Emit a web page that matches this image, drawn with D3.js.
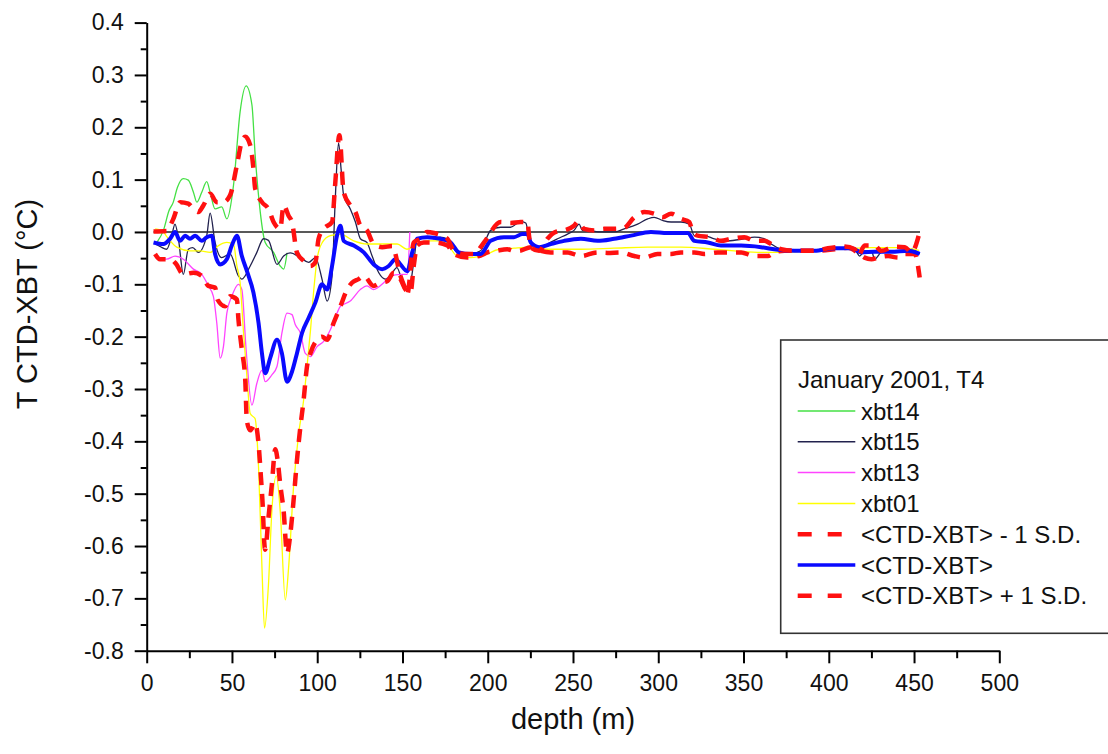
<!DOCTYPE html>
<html>
<head>
<meta charset="utf-8">
<script src="https://cdn.jsdelivr.net/npm/d3@7"></script>
<style>
    body { margin: 0; background: #fff; }
    svg { font-family: "Liberation Sans", Arial, sans-serif; }
</style>
</head>
<body>
<svg id="chart" width="1108" height="754"></svg>
<script>
// depth (m), T CTD-XBT (°C)
const xbt14 = [[6,-0.02],[10,0.005],[13,0.04],[15.6,0.057],[18,0.085],[21.5,0.102],[24.4,0.099],[27.4,0.076],[29.4,0.057],[32.3,0.076],[35.2,0.096],[37.2,0.076],[40.1,0.044],[44,0.048],[47,0.025],[50.9,0.089],[54.8,0.23],[58.3,0.279],[61.7,0.243],[63.6,0.147],[66.6,0.038],[69.5,-0.02],[74.4,-0.039],[78.3,-0.065],[80.3,-0.071],[82.3,-0.04]];

const xbt15 = [[5,-0.023],[8,-0.028],[11.7,-0.033],[14.5,-0.01],[16.6,0.015],[18.6,-0.013],[21.5,-0.081],[24.4,-0.033],[27,-0.03],[30.3,-0.039],[35.2,-0.007],[37.2,0.036],[40.1,-0.02],[43.9,-0.049],[48.9,-0.042],[53.8,-0.084],[55.8,-0.09],[60.7,-0.065],[64.6,-0.039],[68.5,-0.013],[71.4,-0.016],[76.4,-0.062],[80.3,-0.046],[84.2,-0.04],[90.1,-0.049],[95,-0.058],[98.9,-0.049],[102.8,-0.09],[105.8,-0.132],[108.7,-0.084],[110.6,0.064],[112.5,0.17],[114,0.12],[115.5,0.07],[119.4,0.044],[122.4,0.019],[125.3,-0.013],[129.1,-0.02],[132.2,-0.046],[136.1,-0.078],[140,-0.09],[143,-0.083],[146.7,-0.068],[150.8,-0.103],[153.7,-0.11],[156.6,-0.058],[158.6,-0.013],[164,-0.01],[168.4,-0.013],[172,-0.01],[176.3,-0.013],[182.1,-0.039],[186,-0.042],[190,-0.042],[195.8,-0.036],[201.7,0.003],[207.6,0.009],[213.4,0.009],[219.3,0.02],[222.3,0.017],[224.8,-0.02],[230.1,-0.033],[235,-0.023],[240.9,-0.013],[246.8,-0.004],[250.6,0.003],[253.6,0.015],[255.5,0.003],[260.4,0.002],[266.3,0],[274.1,0],[280,0.006],[287.9,0.015],[293.8,0.025],[297.6,0.028],[302.6,0.022],[307.5,0.019],[313.3,0.019],[318.2,0.015],[321.2,-0.007],[327,-0.007],[332.9,-0.013],[340.8,-0.017],[350.5,-0.013],[356.4,-0.01],[362.3,-0.013],[366.2,-0.023],[372.1,-0.033],[378,-0.036],[389.7,-0.036],[395.6,-0.033],[401.5,-0.03],[409.3,-0.03],[415.2,-0.033],[418.1,-0.046],[421,-0.036],[425,-0.036],[426.9,-0.052],[430.8,-0.039],[438.7,-0.036],[442.6,-0.039],[448.5,-0.033],[453.3,-0.042]];

const xbt13 = [[5,-0.049],[11.7,-0.052],[16.6,-0.046],[21.5,-0.052],[27.4,-0.071],[32.3,-0.081],[36.2,-0.103],[39.1,-0.123],[41.1,-0.174],[43.1,-0.241],[45,-0.219],[47,-0.155],[49.9,-0.123],[53.8,-0.1],[55.8,-0.11],[58.3,-0.225],[61.7,-0.331],[64.6,-0.289],[67.6,-0.264],[69.5,-0.286],[73.4,-0.273],[76.4,-0.257],[79.3,-0.193],[82.3,-0.155],[85.2,-0.158],[87.1,-0.177],[90.1,-0.193],[93,-0.232],[96,-0.238],[99.9,-0.219],[103.8,-0.209],[107.7,-0.187],[111.6,-0.155],[113.6,-0.142],[119.4,-0.132],[125.3,-0.11],[129.2,-0.103],[133.1,-0.11],[139,-0.097],[143,-0.084],[148.8,-0.081],[152.8,-0.081],[154.3,0]];

const xbt01 = [[5,0.006],[9,0.003],[12,-0.01],[17.6,-0.029],[25.4,-0.036],[31.3,-0.036],[37.2,-0.039],[42.1,-0.026],[47,-0.02],[50.9,-0.023],[52.9,-0.065],[54.8,-0.097],[56.8,-0.193],[58.8,-0.277],[60.7,-0.347],[63.6,-0.357],[65.6,-0.45],[67.6,-0.642],[69.1,-0.757],[71.4,-0.674],[73.4,-0.533],[76,-0.466],[78.3,-0.533],[81.3,-0.703],[83.2,-0.642],[86.1,-0.488],[89.1,-0.386],[92,-0.322],[94,-0.257],[96,-0.19],[98,-0.11],[100,-0.05],[103,-0.02],[107.7,-0.007],[113.6,-0.004],[121.4,-0.017],[129.3,-0.023],[139,-0.023],[146.9,-0.023],[152.6,-0.033],[157.6,-0.026],[164.5,-0.017],[174.3,-0.017],[182.1,-0.046],[190,-0.049],[199.8,-0.042],[205.6,-0.034],[215.4,-0.031],[225.2,-0.029],[235,-0.033],[254.6,-0.033],[274.1,-0.031],[293.8,-0.029],[313.3,-0.029],[332.9,-0.033],[344.6,-0.036],[360.3,-0.039],[372.1,-0.039],[390,-0.036],[410,-0.032],[425,-0.03],[440,-0.03],[453,-0.035]];

const meanMinusSD = [[4.9,-0.042],[7.8,-0.052],[13.7,-0.052],[17,-0.06],[21.5,-0.081],[27.4,-0.078],[32.3,-0.084],[36.2,-0.103],[40.1,-0.106],[41.5,-0.129],[46,-0.142],[48.9,-0.123],[52.9,-0.129],[53.8,-0.167],[55.8,-0.225],[57.8,-0.283],[58.7,-0.36],[60.7,-0.379],[63.6,-0.366],[65.6,-0.405],[67,-0.469],[68.1,-0.527],[68.9,-0.591],[69.5,-0.607],[71.4,-0.546],[73.4,-0.482],[75.4,-0.415],[76.7,-0.434],[78.3,-0.482],[80.3,-0.533],[82.3,-0.614],[84.2,-0.578],[86.1,-0.514],[88.1,-0.437],[90.1,-0.373],[92,-0.322],[94,-0.257],[96,-0.232],[99.9,-0.206],[102.8,-0.2],[105.8,-0.206],[109.6,-0.174],[113.6,-0.142],[117.5,-0.11],[120.4,-0.097],[124.3,-0.09],[127.3,-0.084],[133.1,-0.103],[137.1,-0.097],[141,-0.094],[144.9,-0.078],[148.8,-0.09],[151.8,-0.11],[154.7,-0.116],[156.6,-0.065],[158.6,-0.026],[162.5,-0.02],[168.4,-0.02],[176.3,-0.026],[180.1,-0.042],[188,-0.049],[195.8,-0.045],[199.8,-0.039],[205,-0.036],[211.5,-0.033],[215.4,-0.036],[218.3,-0.036],[225.2,-0.029],[231.1,-0.036],[237,-0.039],[246.8,-0.039],[254.6,-0.046],[264.4,-0.039],[270.2,-0.04],[278.1,-0.039],[285.9,-0.046],[291.8,-0.049],[299.6,-0.042],[307.5,-0.042],[313.3,-0.039],[321.2,-0.039],[327,-0.042],[334.9,-0.039],[340.8,-0.039],[348.6,-0.039],[356.4,-0.046],[364.3,-0.046],[368.2,-0.039],[374,-0.036],[384,-0.036],[393.6,-0.036],[403.4,-0.033],[411.3,-0.03],[417.2,-0.04],[421,-0.049],[425,-0.052],[428.9,-0.049],[434.8,-0.046],[440.7,-0.049],[444.6,-0.042],[450.4,-0.042],[453.3,-0.087]];

const meanDiff = [[4,-0.02],[9.8,-0.023],[13.7,-0.013],[16.6,0],[19.6,-0.017],[22.5,-0.007],[25.4,-0.013],[28.4,-0.007],[32.3,-0.017],[35.2,-0.01],[38.2,-0.007],[40.1,-0.042],[43.1,-0.062],[47,-0.052],[49.9,-0.026],[52.9,-0.007],[55.8,-0.046],[58.8,-0.075],[62.6,-0.116],[65.6,-0.174],[67.6,-0.232],[69.5,-0.27],[72.4,-0.241],[76.4,-0.206],[79.3,-0.232],[82.3,-0.286],[85.2,-0.267],[88.1,-0.232],[91.1,-0.193],[95,-0.164],[98.9,-0.135],[102.8,-0.1],[105.8,-0.11],[108.7,-0.065],[111.6,-0.007],[113.6,0.012],[115.5,-0.017],[121.4,-0.026],[127.3,-0.039],[133.1,-0.062],[138.1,-0.071],[141.9,-0.065],[145.9,-0.052],[148.8,-0.062],[152.8,-0.075],[155.7,-0.039],[158.6,-0.013],[164.5,-0.01],[172.3,-0.013],[178.2,-0.02],[183.1,-0.039],[190,-0.042],[195.8,-0.042],[201.7,-0.017],[209.5,-0.01],[215.4,-0.01],[220.3,-0.004],[223.3,-0.004],[225.2,-0.02],[230.1,-0.029],[237,-0.023],[244.8,-0.017],[254.6,-0.013],[264.4,-0.017],[274.1,-0.013],[284,-0.007],[295.7,0],[305.5,-0.002],[317.3,-0.002],[321.2,-0.017],[329,-0.02],[336.8,-0.026],[348.6,-0.026],[360.3,-0.029],[370.1,-0.034],[379.9,-0.036],[391.6,-0.036],[403.4,-0.031],[413.2,-0.031],[419.1,-0.039],[426.9,-0.038],[436.7,-0.038],[446.5,-0.036],[453.3,-0.042]];

const meanPlusSD = [[4,0.001],[11.7,0.002],[15.6,0.025],[19.6,0.057],[24.4,0.054],[27.4,0.044],[30.3,0.038],[33.3,0.051],[37.2,0.073],[41.1,0.057],[45,0.057],[48.9,0.07],[52.9,0.128],[55.8,0.173],[57.8,0.182],[60.7,0.166],[62.6,0.121],[63.6,0.083],[67.6,0.057],[71.4,0.044],[74.4,0.019],[78.3,0.006],[80.3,0.051],[83.2,0.031],[85.2,0.019],[88.1,-0.039],[92,-0.055],[96,-0.065],[98.9,-0.058],[100.8,-0.013],[103.8,0.006],[108.7,0.019],[110.5,0.09],[113,0.185],[115.5,0.076],[119.4,0.051],[122.4,0.038],[125.3,0.012],[129.2,0.003],[133.1,-0.023],[138.1,-0.029],[144,-0.027],[148.8,-0.084],[151.8,-0.11],[152.8,-0.119],[156.6,-0.02],[160.6,-0.013],[164.5,0],[168.4,-0.002],[176.3,-0.013],[180.1,-0.036],[186,-0.042],[191.9,-0.042],[197.8,-0.02],[207.6,0.019],[213.4,0.017],[219.3,0.019],[223.3,0.019],[224.2,-0.007],[225.2,-0.029],[230.1,-0.036],[235,-0.013],[239.9,0],[244.8,0.003],[250.6,0.012],[253,0.02],[256.5,0.006],[262.4,0.003],[268.3,0.006],[274.1,0.006],[280,0.008],[285.9,0.028],[291.8,0.038],[297.6,0.035],[302.6,0.028],[307.5,0.035],[313.3,0.025],[318.2,0.019],[320.2,0],[323.1,-0.007],[331,-0.01],[336.8,-0.017],[342.7,-0.013],[350.5,-0.01],[356.4,-0.017],[362.3,-0.017],[366.2,-0.023],[372.1,-0.033],[379.9,-0.036],[391.6,-0.036],[399.5,-0.031],[409.3,-0.028],[415.2,-0.033],[417.2,-0.046],[421,-0.026],[426.9,-0.026],[430.8,-0.036],[438.7,-0.028],[444.6,-0.029],[448.5,-0.039],[453.3,0.0]];

const zeroLine = [[4,0],[453.5,0]];

const legendTitle = "January 2001, T4";
const seriesNames = ["xbt14", "xbt15", "xbt13", "xbt01", "<CTD-XBT> - 1 S.D.", "<CTD-XBT>", "<CTD-XBT> + 1 S.D."];
const xTickValues = [0, 50, 100, 150, 200, 250, 300, 350, 400, 450, 500];
const yTickValues = [-0.8, -0.7, -0.6, -0.5, -0.4, -0.3, -0.2, -0.1, 0, 0.1, 0.2, 0.3, 0.4];

const series = [
    {name: seriesNames[0], data: xbt14, color: "#44e044", width: 1.3},
    {name: seriesNames[1], data: xbt15, color: "#22224e", width: 1.3},
    {name: seriesNames[2], data: xbt13, color: "#ff44ff", width: 1.3},
    {name: seriesNames[3], data: xbt01, color: "#ffff00", width: 1.3},
    {name: seriesNames[4], data: meanMinusSD, color: "#ff1010", width: 4.5, dash: "13,9"},
    {name: seriesNames[5], data: meanDiff, color: "#0a0aff", width: 4},
    {name: seriesNames[6], data: meanPlusSD, color: "#ff1010", width: 4.5, dash: "13,9"}
];

const svg = d3.select("#chart");

const x = d3.scaleLinear().domain([0, 500]).range([146.7, 999.3]);
const y = d3.scaleLinear().domain([-0.8, 0.4]).range([650.7, 22.6]);

const line = d3.line()
    .x(d => x(d[0]))
    .y(d => y(d[1]))
    .curve(d3.curveMonotoneX);

// zero reference
svg.append("path")
    .datum(zeroLine)
    .attr("d", line)
    .attr("fill", "none")
    .attr("stroke", "#222")
    .attr("stroke-width", 1.6);

// curves
svg.append("g").selectAll("path")
    .data(series)
    .join("path")
    .attr("d", d => line(d.data))
    .attr("fill", "none")
    .attr("stroke", d => d.color)
    .attr("stroke-width", d => d.width)
    .attr("stroke-dasharray", d => d.dash || null)
    .attr("stroke-linejoin", "round");

// axes: minor ticks first, then major
const fmt = d => (Math.abs(d) < 1e-9 ? 0 : d).toFixed(1);

svg.append("g")
    .attr("transform", "translate(0," + y(-0.8) + ")")
    .call(d3.axisBottom(x).tickValues(d3.range(25, 500, 50)).tickSize(7.5).tickFormat(""))
    .call(g => g.select(".domain").remove());
svg.append("g")
    .attr("transform", "translate(" + x(0) + ",0)")
    .call(d3.axisLeft(y).tickValues(d3.range(-0.75, 0.4, 0.1)).tickSize(6).tickFormat(""))
    .call(g => g.select(".domain").remove());

const xAxis = svg.append("g")
    .attr("class", "x-axis")
    .attr("transform", "translate(0," + y(-0.8) + ")")
    .call(d3.axisBottom(x).tickValues(xTickValues).tickSize(12.6).tickSizeOuter(0).tickPadding(11.5));
xAxis.selectAll("text").style("font-size", "23px").attr("fill", "#111");

const yAxis = svg.append("g")
    .attr("class", "y-axis")
    .attr("transform", "translate(" + x(0) + ",0)")
    .call(d3.axisLeft(y).tickValues(yTickValues).tickSize(12).tickSizeOuter(0).tickPadding(11).tickFormat(fmt));
yAxis.selectAll("text").style("font-size", "23px").attr("fill", "#111");

svg.selectAll(".tick line").attr("stroke", "#000").attr("stroke-width", 2);
svg.selectAll(".domain").attr("stroke", "#000").attr("stroke-width", 2);

// axis titles
svg.append("text")
    .attr("x", 573)
    .attr("y", 729)
    .attr("text-anchor", "middle")
    .style("font-size", "29px")
    .attr("fill", "#111")
    .text("depth (m)");

svg.append("text")
    .attr("transform", "translate(37,304) rotate(-90)")
    .attr("text-anchor", "middle")
    .style("font-size", "29px")
    .attr("fill", "#111")
    .text("T CTD-XBT (°C)");

// legend
const legend = svg.append("g").attr("class", "legend");
legend.append("rect")
    .attr("x", 780.7)
    .attr("y", 340)
    .attr("width", 360)
    .attr("height", 293.3)
    .attr("fill", "#fff")
    .attr("stroke", "#333")
    .attr("stroke-width", 1.6);

legend.append("text")
    .attr("x", 798)
    .attr("y", 388)
    .style("font-size", "24px")
    .attr("fill", "#111")
    .text(legendTitle);

const item = legend.selectAll(".item")
    .data(series)
    .join("g")
    .attr("class", "item")
    .attr("transform", (d, i) => "translate(0," + (411 + i * 30.8) + ")");

item.append("line")
    .attr("x1", 797.7)
    .attr("x2", 855.3)
    .attr("stroke", d => d.color)
    .attr("stroke-width", d => d.dash ? 4.5 : (d.width > 2 ? 3.5 : 1.5))
    .attr("stroke-dasharray", d => d.dash ? "14,16" : null);

item.append("text")
    .attr("x", 861)
    .attr("y", 8.5)
    .style("font-size", "24px")
    .attr("fill", "#111")
    .text(d => d.name);
</script>
</body>
</html>
